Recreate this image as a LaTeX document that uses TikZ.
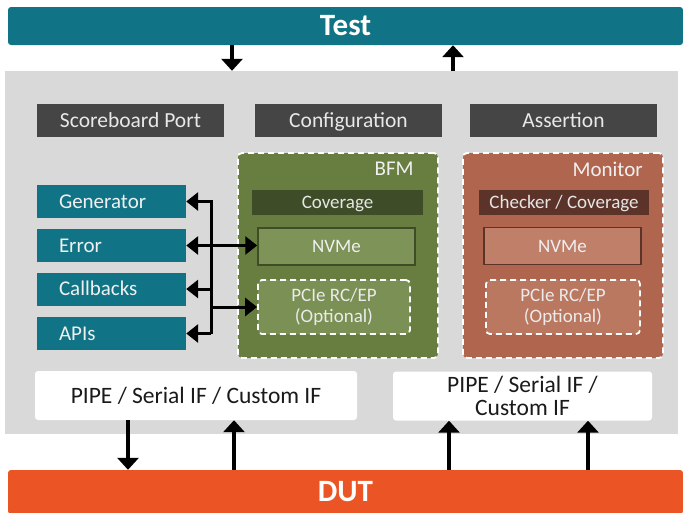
\documentclass[tikz,border=0pt]{standalone}
\usepackage{fontspec}
\setmainfont{Carlito}
\usepackage{tikz}
\usetikzlibrary{positioning,arrows.meta}

\definecolor{testTeal}{HTML}{107486}
\definecolor{bgGray}{HTML}{D9D9D9}
\definecolor{portGray}{HTML}{454545}
\definecolor{bfmGreen}{HTML}{687E40}
\definecolor{bfmDark}{HTML}{3E4D28}
\definecolor{bfmLight}{HTML}{7E9357}
\definecolor{monBrown}{HTML}{B0664E}
\definecolor{monDark}{HTML}{5C3329}
\definecolor{monLight}{HTML}{C07F69}
\definecolor{dutOrange}{HTML}{EB5424}

\begin{document}
\begin{tikzpicture}[x=1pt, y=-1pt,
                bigbar/.style={rectangle, rounded corners=3pt, inner sep=0pt, text=white, font=\fontsize{31}{34}\selectfont\bfseries},
                portbox/.style={rectangle, fill=portGray, inner sep=0pt, minimum width=187pt, minimum height=33pt, text height=16pt, text depth=2.2pt, text={rgb,255:red,232;green,232;blue,232}, font=\fontsize{21.5}{24}\selectfont},
                sidebox/.style={rectangle, fill=testTeal, inner xsep=22pt, inner ysep=0pt, text width=105pt, align=left, minimum height=33pt, text height=16pt, text depth=2.5pt, text={rgb,255:red,240;green,240;blue,240}, font=\fontsize{21}{23}\selectfont},
                groupbox/.style={rectangle, rounded corners=4pt, draw=white, dash pattern=on 6pt off 4pt, line width=1.8pt, inner sep=0pt, minimum width=200pt, minimum height=205pt},
                barbox/.style={rectangle, inner sep=0pt, minimum height=25pt, text height=14pt, text depth=1.8pt, text={rgb,255:red,230;green,230;blue,230}, font=\fontsize{19}{21}\selectfont},
                protobox/.style={rectangle, line width=1.5pt, inner sep=0pt, minimum width=157pt, minimum height=37pt, text height=14pt, text depth=1.8pt, text={rgb,255:red,240;green,240;blue,240}, font=\fontsize{19}{21}\selectfont},
                optbox/.style={rectangle, rounded corners=4pt, draw=white, dash pattern=on 6pt off 4pt, line width=1.8pt, inner sep=0pt, minimum height=54pt, align=center, text={rgb,255:red,235;green,235;blue,235}, font=\fontsize{19}{21}\selectfont},
                ifbox/.style={rectangle, rounded corners=3pt, fill=white, inner sep=0pt, minimum height=49pt, align=center, text={rgb,255:red,26;green,26;blue,26}, font=\fontsize{23.5}{23}\selectfont},
                grouplabel/.style={anchor=east, inner sep=0pt, text={rgb,255:red,240;green,240;blue,240}, font=\fontsize{21}{23}\selectfont},
                arr/.style={line width=3.5pt, -{Triangle[length=12pt,width=21pt]}},
                busarr/.style={line width=3pt, -{Triangle[length=12pt,width=18pt]}},
            ]
            \useasboundingbox (0,0) rectangle (683,512);

            % main blocks
            \node[bigbar, fill=testTeal, minimum width=675pt, minimum height=38pt]   (test) at (345.5,26)  {Test};
            \node[rectangle, fill=bgGray, minimum width=673pt, minimum height=363pt] (bg)   at (341.5,252.5) {};
            \node[bigbar, fill=dutOrange, minimum width=675pt, minimum height=44pt]  (dut)  at (345.5,492) {DUT};

            % top row
            \node[portbox] (score)  at (130.5,120.5) {Scoreboard Port};
            \node[portbox] (config) at (348.5,120.5) {Configuration};
            \node[portbox] (assert) at (563.5,120.5) {Assertion};

            % BFM
            \node[groupbox, fill=bfmGreen]                                     (bfm)   at (338,255.5)   {};
            \node[grouplabel] (bfmLbl) at ([xshift=-25pt, yshift=-17pt]bfm.north east) {BFM};
            \node[barbox, fill=bfmDark, minimum width=171pt]                   (covB)  at (337.5,202.5) {Coverage};
            \node[protobox, fill=bfmLight, draw=bfmDark]                       (nvmeB) at (336.5,246.5) {NVMe};
            \node[optbox, fill=bfmLight!85!bfmGreen, minimum width=152pt]      (pcieB) at (334,307)     {PCIe RC/EP\\(Optional)};

            % Monitor
            \node[groupbox, fill=monBrown]                                     (mon)   at (563,255.5)   {};
            \node[grouplabel] (monLbl) at ([xshift=-21pt, yshift=-17pt]mon.north east) {Monitor};
            \node[barbox, fill=monDark, minimum width=170pt]                   (chkM)  at (564,202.5)   {Checker / Coverage};
            \node[protobox, fill=monLight, draw=monDark]                       (nvmeM) at (562.5,246)   {NVMe};
            \node[optbox, fill=monLight!70!monBrown, minimum width=154pt]      (pcieM) at (563,307)     {PCIe RC/EP\\(Optional)};

            % left column
            \node[sidebox] (gen) at (111.5,201.5) {Generator};
            \node[sidebox] (err) at (111.5,245.5) {Error};
            \node[sidebox] (cb)  at (111.5,289)   {Callbacks};
            \node[sidebox] (api) at (111.5,333.5) {APIs};

            % interfaces
            \node[ifbox, minimum width=322pt] (pipeL) at (196,395.5)   {PIPE / Serial IF / Custom IF};
            \node[ifbox, minimum width=259pt] (pipeR) at (522.5,396)   {PIPE / Serial IF /\\Custom IF};

            % arrow positions
            \coordinate (tDown) at (232,0);
            \coordinate (tUp)   at (453,0);
            \coordinate (bus)   at (211,0);
            \coordinate (dDown) at (128,0);
            \coordinate (dUpA)  at (234,0);
            \coordinate (dUpB)  at (449,0);
            \coordinate (dUpC)  at (588,0);

            \draw[arr] (test.south -| tDown) -- (bg.north -| tDown);
            \draw[arr] (bg.north -| tUp) -- (test.south -| tUp);

            \draw[busarr] (bus |- api.east) -- (bus |- gen.east) -- (gen.east);
            \draw[busarr] (bus |- err.east) -- (err.east);
            \draw[busarr] (bus |- cb.east) -- (cb.east);
            \draw[busarr] (bus |- api.east) -- (api.east);
            \draw[busarr] (bus |- err.east) -- (err.east -| nvmeB.west);
            \draw[busarr] (bus |- pcieB.west) -- (pcieB.west);

            \draw[arr] (pipeL.south -| dDown) -- (dut.north -| dDown);
            \draw[arr] (dut.north -| dUpA) -- (pipeL.south -| dUpA);
            \draw[arr] (dut.north -| dUpB) -- (pipeR.south -| dUpB);
            \draw[arr] (dut.north -| dUpC) -- (pipeR.south -| dUpC);
        \end{tikzpicture}
\end{document}
